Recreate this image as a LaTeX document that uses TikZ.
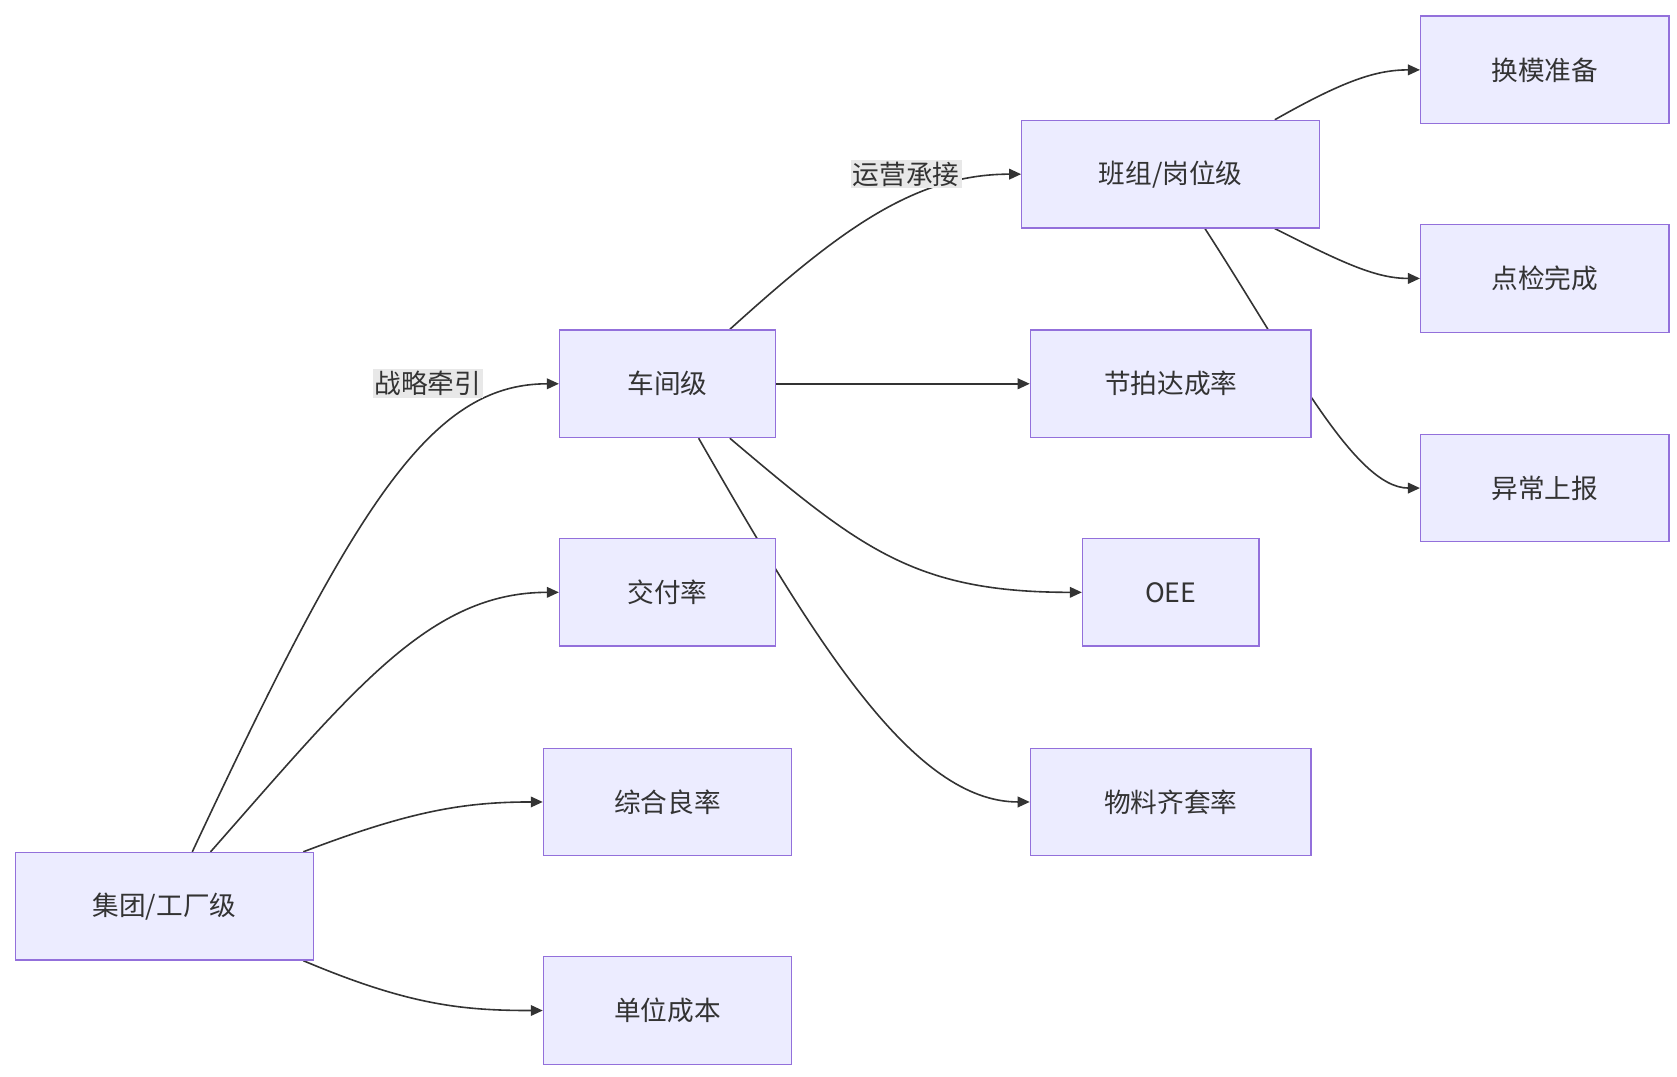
\documentclass[tikz,border=0pt]{standalone}
\usepackage{fontspec}
\setmainfont{Noto Sans CJK SC}
\usetikzlibrary{arrows.meta, calc, backgrounds}
\definecolor{boxfill}{HTML}{ECECFF}
\definecolor{boxline}{HTML}{9370DB}
\definecolor{ink}{HTML}{333333}
\definecolor{lblfill}{HTML}{E8E8E8}
\tikzset{
  box/.style = {draw=boxline, fill=boxfill, line width=1pt, text=ink,
    minimum height=100*0.80625pt, inner sep=0pt, font=\fontsize{20}{24}\selectfont},
  lbl/.style = {fill=lblfill, text=ink, inner sep=1.5pt, font=\fontsize{20}{24}\selectfont},
  link/.style = {draw=ink, line width=1.2pt, -{Triangle[length=9pt,width=8pt]}},
}
\begin{document}
\begin{tikzpicture}[x=0.80625pt, y=-0.80625pt]
  \useasboundingbox (0,0) rectangle (1560,1001);
  % levels
  \node[box, minimum width=277*0.80625pt] (plant) at (153,843) {集团/工厂级};
  \node[box, minimum width=201*0.80625pt] (shop) at (621,357) {车间级};
  \node[box, minimum width=201*0.80625pt] (deliv) at (621,551) {交付率};
  \node[box, minimum width=231*0.80625pt] (yield) at (621,746) {综合良率};
  \node[box, minimum width=231*0.80625pt] (cost) at (621,940) {单位成本};
  \node[box, minimum width=277*0.80625pt] (team) at (1089,162) {班组/岗位级};
  \node[box, minimum width=261*0.80625pt] (takt) at (1089,357) {节拍达成率};
  \node[box, minimum width=164*0.80625pt] (oee) at (1089,551) {OEE};
  \node[box, minimum width=261*0.80625pt] (kit) at (1089,746) {物料齐套率};
  \node[box, minimum width=231*0.80625pt] (smed) at (1437,65) {换模准备};
  \node[box, minimum width=231*0.80625pt] (check) at (1437,259) {点检完成};
  \node[box, minimum width=231*0.80625pt] (alarm) at (1437,454) {异常上报};

  \begin{scope}[on background layer]
    % plant level
    \draw[link] ($(plant.north west)+(165,0)$) .. controls (330,470) and (400,357) .. (shop.west);
    \draw[link] ($(plant.north west)+(182,0)$) .. controls (330,640) and (400,551) .. (deliv.west);
    \draw[link] ($(plant.north east)+(-10,0)$) .. controls (380,755) and (430,746) .. (yield.west);
    \draw[link] ($(plant.south east)+(-10,0)$) .. controls (380,935) and (430,940) .. (cost.west);
    \node[lbl] (l1) at (398,357) {战略牵引};
    % shop level
    \draw[link] ($(shop.north west)+(159,0)$) .. controls (780,215) and (850,162) .. (team.west);
    \draw[link] (shop.east) -- (takt.west);
    \draw[link] ($(shop.south west)+(159,0)$) .. controls (800,510) and (850,551) .. (oee.west);
    \draw[link] ($(shop.south west)+(130,0)$) .. controls (760,600) and (850,746) .. (kit.west);
    \node[lbl] (l2) at (843,162) {运营承接};
    % team level
    \draw[link] ($(team.north west)+(236,0)$) .. controls (1250,75) and (1280,65) .. (smed.west);
    \draw[link] ($(team.south west)+(236,0)$) .. controls (1250,245) and (1280,259) .. (check.west);
    \draw[link] ($(team.south west)+(171,0)$) .. controls (1200,335) and (1260,454) .. (alarm.west);
  \end{scope}
\end{tikzpicture}
\end{document}
